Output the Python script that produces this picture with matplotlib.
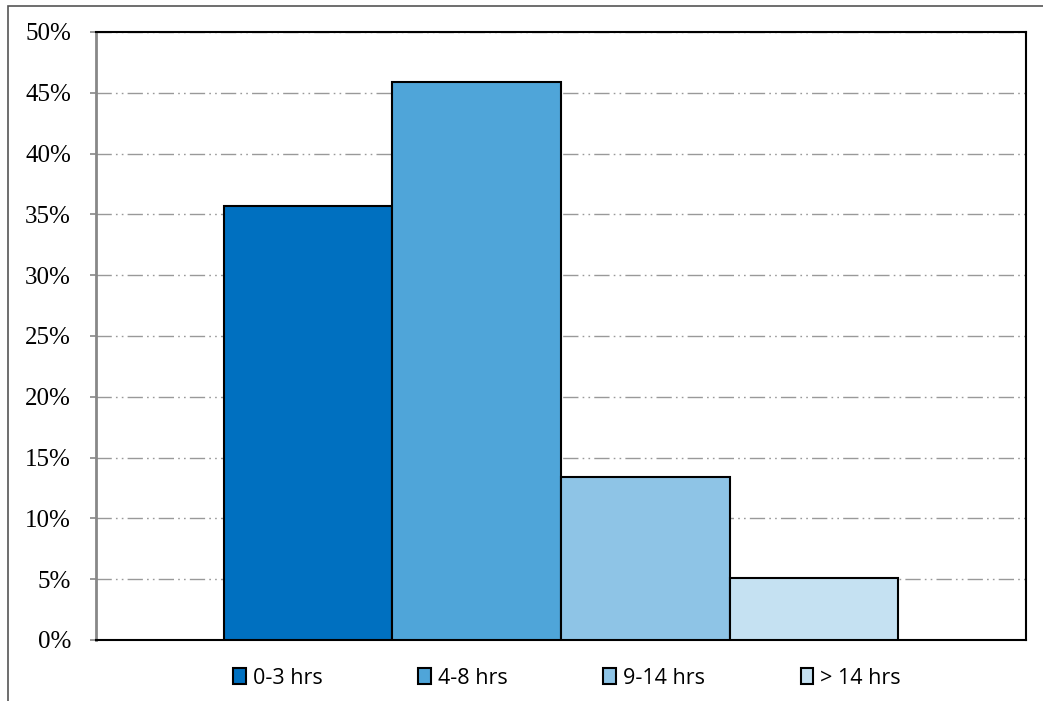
import matplotlib.pyplot as plt
from matplotlib.patches import Rectangle
from matplotlib.ticker import PercentFormatter

categories = ['0-3 hrs', '4-8 hrs', '9-14 hrs', '> 14 hrs']
shares = [35.7, 45.9, 13.4, 5.1]
colors = ['#0070C0', '#4FA5D9', '#8EC4E6', '#C5E1F2']

fig = plt.figure(figsize=(10.43, 7.01), dpi=100)
ax = fig.add_axes([96 / 1043, 1 - 640 / 701, 930 / 1043, 608 / 701])

# outer chart frame (left and top edges visible)
fig.add_artist(Rectangle((7.5 / 1043, -0.1), 1.2, 1.1 - 5.5 / 701,
                         transform=fig.transFigure, fill=False,
                         edgecolor='#555555', linewidth=1.2))

bars = []
for i, (c, v, col) in enumerate(zip(categories, shares, colors)):
    b = ax.bar(i, v, width=1.0, color=col, edgecolor='black', linewidth=1.5,
               label=c, zorder=3)
    bars.append(b)

ax.set_xlim(-1.257, 4.257)
ax.set_ylim(0, 50)
ax.set_yticks(range(0, 51, 5))
ax.yaxis.set_major_formatter(PercentFormatter(decimals=0))
ax.set_xticks([])

ax.grid(axis='y', color='#999999', linewidth=1.0,
        linestyle=(0, (11, 3, 1.2, 3, 1.2, 3)), zorder=0)

for s in ['top', 'right', 'bottom']:
    ax.spines[s].set_color('black')
    ax.spines[s].set_linewidth(1.5)
ax.spines['left'].set_color('#888888')
ax.spines['left'].set_linewidth(2)

ax.tick_params(axis='y', direction='out', length=4, width=1.2, color='#888888',
               pad=14, labelsize=18)
for lab in ax.get_yticklabels():
    lab.set_fontfamily('Liberation Serif')

leg = fig.legend(handles=bars, labels=categories, loc='center',
                 bbox_to_anchor=(567 / 1043, 1 - 678 / 701), ncol=4,
                 frameon=False, handlelength=0.6, handleheight=0.75,
                 handletextpad=0.3, columnspacing=4.45,
                 prop={'family': 'Open Sans', 'size': 15.5})

fig.savefig('out.png', dpi=100)
